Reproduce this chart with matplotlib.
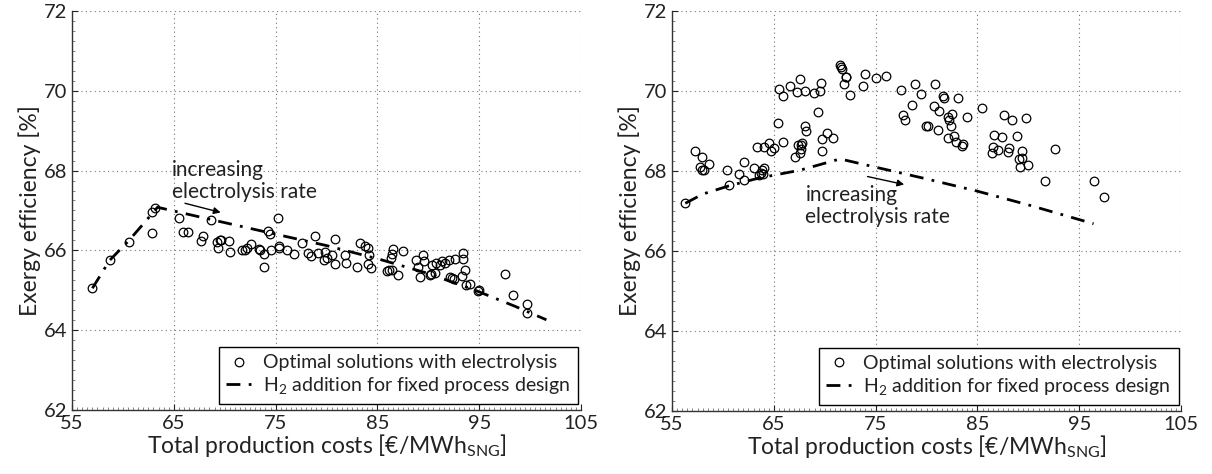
import matplotlib
matplotlib.use("Agg")
import matplotlib.pyplot as plt
from matplotlib.ticker import MultipleLocator

plt.rcParams['font.family'] = ['Lato', 'DejaVu Sans']
plt.rcParams['mathtext.fontset'] = 'custom'
plt.rcParams['mathtext.rm'] = 'Lato'
plt.rcParams['mathtext.it'] = 'Lato:italic'

# ---- left panel: optimal solutions with electrolysis ----
left_cost = [57.0, 58.7, 60.6, 62.9, 62.9, 63.2, 65.5, 65.9, 66.4, 68.7, 67.9, 67.7,
             69.2, 69.3, 69.5, 69.6, 70.4, 70.5, 71.7, 72.0, 72.2, 72.6, 73.4, 73.5,
             73.9, 73.9, 74.3, 74.4, 74.5, 75.2, 75.3, 75.3, 76.1, 76.8, 77.6, 78.2,
             78.5, 78.9, 79.2, 79.9, 79.8, 80.0, 80.5, 80.8, 80.8, 81.8, 81.9, 83.0,
             83.3, 83.8, 84.1, 84.2, 84.1, 84.4, 85.9, 86.1, 86.4, 86.3, 86.4, 86.5,
             87.0, 87.5, 88.8, 89.0, 89.2, 89.5, 89.6, 90.2, 90.3, 90.7, 90.4, 90.8,
             91.1, 91.3, 91.6, 92.0, 92.6, 92.1, 92.5, 92.3, 93.4, 93.4, 93.6, 93.3,
             93.7, 94.1, 94.9, 95.0, 97.5, 98.3, 99.7, 99.7]
left_eff = [65.05, 65.75, 66.22, 66.44, 66.96, 67.07, 66.82, 66.45, 66.45, 66.76, 66.35, 66.23,
            66.20, 66.06, 66.27, 66.27, 66.23, 65.95, 66.00, 66.02, 66.06, 66.15, 66.04, 66.00,
            65.90, 65.59, 66.48, 66.41, 66.02, 66.82, 66.12, 66.06, 66.00, 65.91, 66.19, 65.94,
            65.87, 66.35, 65.94, 65.95, 65.77, 65.81, 65.89, 66.29, 65.67, 65.89, 65.68, 65.59,
            66.19, 66.12, 66.06, 65.89, 65.67, 65.56, 65.48, 65.52, 65.52, 65.81, 65.92, 66.04,
            65.39, 65.98, 65.75, 65.59, 65.33, 65.89, 65.73, 65.39, 65.42, 65.43, 65.64, 65.69,
            65.63, 65.73, 65.69, 65.75, 65.79, 65.33, 65.28, 65.31, 65.94, 65.79, 65.50, 65.37,
            65.14, 65.16, 64.97, 65.01, 65.41, 64.89, 64.66, 64.43]

# ---- left panel: H2 addition for fixed process design ----
left_h2_cost = [57.0, 58.7, 60.6, 62.3, 63.4, 68.7, 74.4, 80.0, 85.3, 90.0, 94.9, 98.5, 101.6]
left_h2_eff = [65.05, 65.75, 66.25, 66.75, 67.08, 66.77, 66.44, 66.12, 65.77, 65.42, 64.97, 64.60, 64.26]

# ---- right panel: optimal solutions with electrolysis ----
right_cost = [56.3, 57.3, 57.9, 57.75, 57.9, 58.1, 58.6, 60.4, 60.6, 61.6, 62.1, 62.1,
              63.0, 63.3, 63.5, 63.7, 63.8, 64.0, 63.9, 64.0, 64.5, 64.7, 65.0, 65.4,
              65.5, 65.9, 65.9, 66.6, 67.1, 67.3, 67.6, 67.4, 67.6, 67.7, 67.7, 67.8,
              68.1, 68.1, 68.2, 68.9, 69.5, 69.6, 69.3, 69.7, 70.2, 70.8, 69.7, 71.5,
              71.6, 71.7, 72.1, 72.1, 71.9, 72.5, 73.8, 74.0, 75.0, 76.0, 77.5, 77.7,
              77.9, 78.9, 79.5, 78.6, 79.9, 80.1, 80.8, 81.6, 81.7, 83.1, 80.7, 81.2,
              82.5, 82.1, 82.2, 82.4, 84.0, 81.1, 82.7, 82.1, 82.9, 83.5, 83.6, 85.4,
              87.6, 88.4, 89.8, 86.6, 87.4, 88.9, 86.5, 86.4, 87.0, 88.1, 88.0, 89.4,
              89.1, 89.4, 89.2, 90.0, 92.6, 91.6, 96.4, 97.4]
right_eff = [67.19, 68.51, 68.36, 68.09, 68.03, 68.03, 68.18, 68.03, 67.65, 67.92, 68.23, 67.78,
             68.07, 68.59, 67.90, 67.94, 68.03, 68.07, 67.92, 68.59, 68.71, 68.51, 68.57, 69.21,
             70.04, 69.88, 68.73, 70.13, 68.34, 69.97, 70.29, 68.65, 68.46, 68.54, 68.65, 68.69,
             70.00, 69.13, 69.01, 69.95, 69.99, 70.19, 69.47, 68.80, 68.96, 68.83, 68.50, 70.64,
             70.61, 70.55, 70.36, 70.34, 70.17, 69.89, 70.12, 70.42, 70.32, 70.37, 70.02, 69.40,
             69.28, 70.18, 69.92, 69.65, 69.13, 69.13, 70.17, 69.88, 69.82, 69.83, 69.63, 69.50,
             69.42, 69.34, 69.28, 69.13, 69.36, 69.03, 68.88, 68.82, 68.73, 68.63, 68.67, 69.58,
             69.40, 69.28, 69.33, 68.90, 68.86, 68.88, 68.59, 68.46, 68.53, 68.57, 68.47, 68.50,
             68.30, 68.33, 68.11, 68.14, 68.55, 67.75, 67.76, 67.35]

# ---- right panel: H2 addition for fixed process design ----
right_h2_cost = [56.3, 58.0, 60.5, 63.5, 67.6, 71.5, 75.4, 80.0, 84.9, 90.0, 96.4]
right_h2_eff = [67.19, 67.42, 67.62, 67.82, 68.02, 68.30, 68.07, 67.80, 67.50, 67.15, 66.68]

x_ticks = [55, 65, 75, 85, 95, 105]
y_ticks = [62, 64, 66, 68, 70, 72]

fig = plt.figure(figsize=(12.12, 4.74), dpi=100)
ax_l = fig.add_axes([0.0594, 0.135, 0.42, 0.842])
ax_r = fig.add_axes([0.5545, 0.133, 0.42, 0.844])

panels = [
    (ax_l, left_cost, left_eff, left_h2_cost, left_h2_eff, (64.8, 67.22), ((66.1, 67.18), (69.6, 66.95))),
    (ax_r, right_cost, right_eff, right_h2_cost, right_h2_eff, (68.1, 66.6), ((74.2, 67.86), (77.8, 67.66))),
]

for ax, xs, ys, hx, hy, txt_pos, arrow in panels:
    ax.plot(xs, ys, linestyle='none', marker='o', markersize=6.2, markerfacecolor='none',
            markeredgecolor='black', markeredgewidth=0.9,
            label='Optimal solutions with electrolysis')
    ax.plot(hx, hy, color='black', linewidth=2.0, dashes=(5, 3, 1, 3),
            label='H$_2$ addition for fixed process design')

    ax.text(txt_pos[0], txt_pos[1], 'increasing\nelectrolysis rate', fontsize=15,
            color='#222222', linespacing=1.1, va='bottom', ha='left')
    ax.annotate('', xy=arrow[1], xytext=arrow[0],
                arrowprops=dict(arrowstyle='-|>', color='black', lw=1.0,
                                mutation_scale=10, shrinkA=0, shrinkB=0))

    ax.set_xlim(55, 105)
    ax.set_ylim(62, 72)
    ax.set_xticks(x_ticks)
    ax.set_yticks(y_ticks)
    ax.xaxis.set_minor_locator(MultipleLocator(0.5))
    ax.yaxis.set_minor_locator(MultipleLocator(0.25))
    ax.tick_params(which='major', direction='in', length=4, width=0.8, labelsize=14.5,
                   colors='#222222')
    ax.tick_params(which='minor', direction='in', length=2, width=0.5, color='#555555')
    ax.grid(True, which='major', linestyle=(0, (1, 3)), color='0.45', linewidth=0.8)
    for side in ['top', 'right']:
        ax.spines[side].set_visible(False)
    for side in ['left', 'bottom']:
        ax.spines[side].set_color('#333333')
        ax.spines[side].set_linewidth(1.0)

    ax.set_xlabel('Total production costs [€/MWh$_{\\mathrm{SNG}}$]', fontsize=16.5,
                  color='#222222', labelpad=0)
    ax.set_ylabel('Exergy efficiency [%]', fontsize=16.5, color='#222222', labelpad=2)

    leg = ax.legend(loc='lower right', bbox_to_anchor=(0.995, 0.015), borderaxespad=0,
                    fontsize=14, frameon=True, fancybox=False, framealpha=1,
                    edgecolor='black', handlelength=1.3, handletextpad=0.6,
                    borderpad=0.4, labelspacing=0.2)
    leg.get_frame().set_linewidth(1.0)
    for t in leg.get_texts():
        t.set_color('#222222')

fig.savefig('out.png', dpi=100)
